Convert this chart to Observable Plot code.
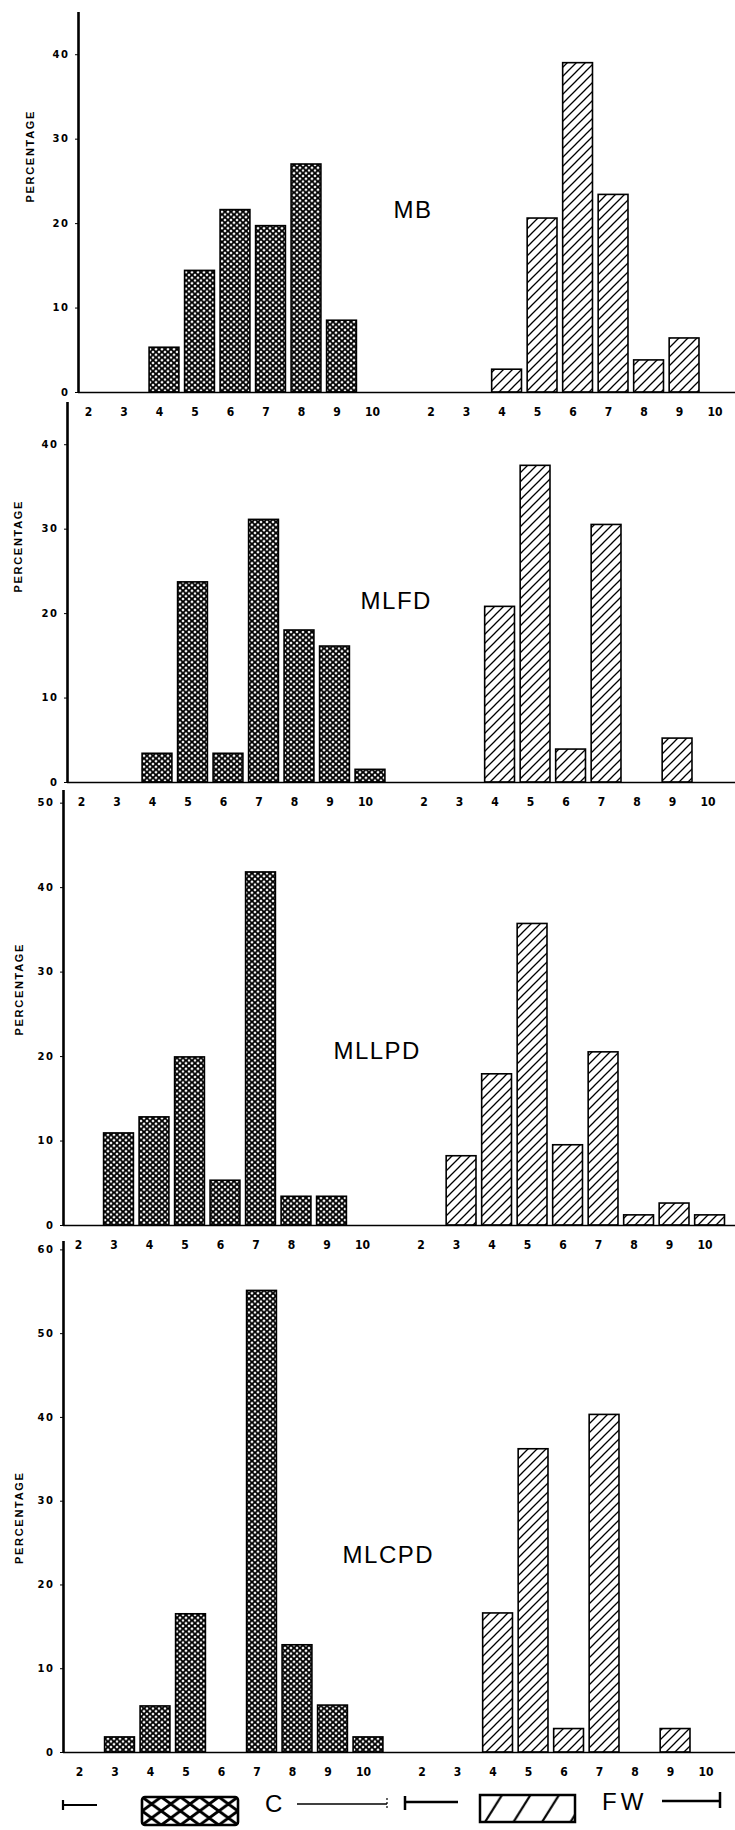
<!DOCTYPE html>
<html>
<head>
<meta charset="utf-8">
<script src="https://cdn.jsdelivr.net/npm/d3@7"></script>
<script src="https://cdn.jsdelivr.net/npm/@observablehq/plot@0.6"></script>
<style>
html, body { margin: 0; padding: 0; background: #fff; }
#fig { position: relative; width: 735px; height: 1830px; overflow: hidden; background: #fff; }
#fig svg.panel { position: absolute; left: 0; }
g[aria-label="x-axis tick label"] text { font-family: "Liberation Sans Narrow", "DejaVu Sans Condensed", sans-serif; font-weight: bold; font-size: 12px; }
g[aria-label="y-axis tick label"] text { font-family: "DejaVu Sans", sans-serif; font-weight: bold; font-size: 10px; letter-spacing: 1.5px; }
</style>
</head>
<body>
<svg width="0" height="0" style="position:absolute">
  <defs>
    <pattern id="crossC" patternUnits="userSpaceOnUse" width="6" height="5.5">
      <rect width="6" height="5.5" fill="#fff"/>
      <path d="M-1,-0.92L7,6.42M-1,6.42L7,-0.92" stroke="#000" stroke-width="1.85"/>
    </pattern>
    <pattern id="hatchFW" patternUnits="userSpaceOnUse" width="9" height="9">
      <rect width="9" height="9" fill="#fff"/>
      <path d="M0,9L9,0M-2,2L2,-2M7,11L11,7" stroke="#000" stroke-width="1.3"/>
    </pattern>
    <pattern id="legC" patternUnits="userSpaceOnUse" x="142" y="12" width="19.2" height="14">
      <rect width="19.2" height="14" fill="#fff"/>
      <path d="M-2,-1.46L21.2,15.46M-2,15.46L21.2,-1.46" stroke="#000" stroke-width="3"/>
    </pattern>
    <pattern id="legFW" patternUnits="userSpaceOnUse" x="480" y="10" width="28.5" height="27">
      <rect width="28.5" height="27" fill="#fff"/>
      <path d="M5,27L22,0" stroke="#000" stroke-width="2.2"/>
    </pattern>
  </defs>
</svg>
<div id="fig"></div>
<script>
// ---- data (percentages) ----
const classes = [2, 3, 4, 5, 6, 7, 8, 9, 10];
const groups = ["C", "FW"];

const mbC     = [0, 0, 5.3, 14.4, 21.6, 19.7, 27.0, 8.5, 0];
const mbFW    = [0, 0, 2.7, 20.6, 39.0, 23.4, 3.8, 6.4, 0];
const mlfdC   = [0, 0, 3.4, 23.7, 3.4, 31.1, 18.0, 16.1, 1.5];
const mlfdFW  = [0, 0, 20.8, 37.5, 3.9, 30.5, 0, 5.2, 0];
const mllpdC  = [0, 10.9, 12.8, 19.9, 5.3, 41.8, 3.4, 3.4, 0];
const mllpdFW = [0, 8.2, 17.9, 35.7, 9.5, 20.5, 1.2, 2.6, 1.2];
const mlcpdC  = [0, 1.8, 5.5, 16.5, 0, 55.1, 12.8, 5.6, 1.8];
const mlcpdFW = [0, 0, 16.6, 36.2, 2.8, 40.3, 0, 2.8, 0];

const ticksMB    = [0, 10, 20, 30, 40];
const ticksMLFD  = [0, 10, 20, 30, 40];
const ticksMLLPD = [0, 10, 20, 30, 40, 50];
const ticksMLCPD = [0, 10, 20, 30, 40, 50, 60];

const yLabel = "PERCENTAGE";

// ---- layout ----
const W = 735, STEP = 35.5, FW_OFFSET = 9.65, HALF = 0.42;
const panels = [
  {name: "MB",    c: mbC,    fw: mbFW,    ticks: ticksMB,    top: 0,    height: 430, axisX: 78, c2: 93, yTop: 12,   base: 392,  ymax: 45,   labelDx: -48, nameX: 10.45, nameY: 21.6},
  {name: "MLFD",  c: mlfdC,  fw: mlfdFW,  ticks: ticksMLFD,  top: 390,  height: 430, axisX: 67, c2: 86, yTop: 402,  base: 782,  ymax: 45,   labelDx: -49, nameX: 9.72,  nameY: 21.4},
  {name: "MLLPD", c: mllpdC, fw: mllpdFW, ticks: ticksMLLPD, top: 780,  height: 480, axisX: 63, c2: 83, yTop: 790,  base: 1225, ymax: 51.5, labelDx: -44, nameX: 9.04,  nameY: 20.6},
  {name: "MLCPD", c: mlcpdC, fw: mlcpdFW, ticks: ticksMLCPD, top: 1230, height: 560, axisX: 63, c2: 84, yTop: 1241, base: 1752, ymax: 61,   labelDx: -44, nameX: 9.27,  nameY: 23.5}
];

const fig = document.getElementById("fig");

function drawPanel(cfg) {
  const d0 = 2 - (cfg.c2 - cfg.axisX) / STEP;
  const d1 = d0 + (W - cfg.axisX) / STEP;
  const rows = [];
  groups.forEach((g, gi) => {
    const vals = gi === 0 ? cfg.c : cfg.fw;
    classes.forEach((k, i) => rows.push({group: g, cls: k, pos: k + (gi ? FW_OFFSET : 0), value: vals[i]}));
  });
  const bars = rows.filter(d => d.value > 0);
  const tickLabel = new Map(rows.map(d => [d.pos, String(d.cls)]));
  const svg = Plot.plot({
    width: W,
    height: cfg.height,
    marginLeft: cfg.axisX,
    marginRight: 0,
    marginTop: cfg.yTop - cfg.top,
    marginBottom: cfg.top + cfg.height - cfg.base,
    style: {background: "transparent", overflow: "visible"},
    x: {type: "linear", domain: [d0, d1]},
    y: {domain: [0, cfg.ymax]},
    marks: [
      Plot.rect(bars.filter(d => d.group === "C"), {
        x1: d => d.pos - HALF, x2: d => d.pos + HALF, y1: 0, y2: "value",
        fill: "url(#crossC)", stroke: "#000", strokeWidth: 1.6
      }),
      Plot.rect(bars.filter(d => d.group === "FW"), {
        x1: d => d.pos - HALF, x2: d => d.pos + HALF, y1: 0, y2: "value",
        fill: "url(#hatchFW)", stroke: "#000", strokeWidth: 1.6
      }),
      Plot.ruleY([0], {stroke: "#000", strokeWidth: 1.6}),
      Plot.ruleX([d0], {y1: 0, y2: cfg.ymax, stroke: "#000", strokeWidth: 2.6}),
      Plot.axisY(cfg.ticks, {tickSize: 3, tickPadding: 6, label: null, stroke: "#000", fill: "#000"}),
      Plot.axisX(rows.map(d => d.pos), {tickSize: 0, tickPadding: 15, dx: -5, label: null, tickFormat: d => tickLabel.get(d), fill: "#000"}),
      Plot.text([{t: yLabel, y: 22.5}], {
        y: "y", text: "t", frameAnchor: "left", dx: cfg.labelDx, rotate: -90,
        fontSize: 11, fontWeight: "bold", fontFamily: "Liberation Sans", fill: "#000"
      }),
      Plot.text([{t: cfg.name, x: cfg.nameX, y: cfg.nameY}], {
        x: "x", y: "y", text: "t", textAnchor: "start",
        fontSize: 24, fontFamily: "Liberation Sans", fill: "#000"
      })
    ]
  });
  svg.classList.add("panel");
  svg.style.top = cfg.top + "px";
  svg.querySelectorAll("text").forEach(t => {
    if (t.textContent === yLabel) t.style.letterSpacing = "1.7px";
    if (t.textContent === cfg.name) t.style.letterSpacing = "1.5px";
  });
  fig.appendChild(svg);
}

panels.forEach(drawPanel);

// ---- legend (below the charts) ----
const ns = "http://www.w3.org/2000/svg";
const leg = document.createElementNS(ns, "svg");
leg.setAttribute("width", W);
leg.setAttribute("height", 45);
leg.style.position = "absolute";
leg.style.left = "0px";
leg.style.top = "1785px";
leg.innerHTML = `
  <g stroke="#000" fill="none" stroke-linecap="butt">
    <path d="M63,15V25M63,20H97" stroke-width="2.2"/>
    <rect x="142" y="12" width="96" height="28" rx="3" fill="url(#legC)" stroke-width="2.6"/>
    <path d="M297,19H387" stroke-width="1.5"/>
    <path d="M387,13V25" stroke-width="1.2" stroke-dasharray="2,2"/>
    <path d="M405,11V25M405,17H458" stroke-width="2.5"/>
    <rect x="480" y="10" width="95" height="27" fill="url(#legFW)" stroke-width="2.5"/>
    <path d="M662,16H720M720,7V23" stroke-width="2.5"/>
  </g>
  <text x="265" y="27" font-family="Liberation Sans" font-size="24" fill="#000">C</text>
  <text x="602" y="25" font-family="Liberation Sans" font-size="24" fill="#000" style="letter-spacing:4px">FW</text>
`;
fig.appendChild(leg);
</script>
</body>
</html>
